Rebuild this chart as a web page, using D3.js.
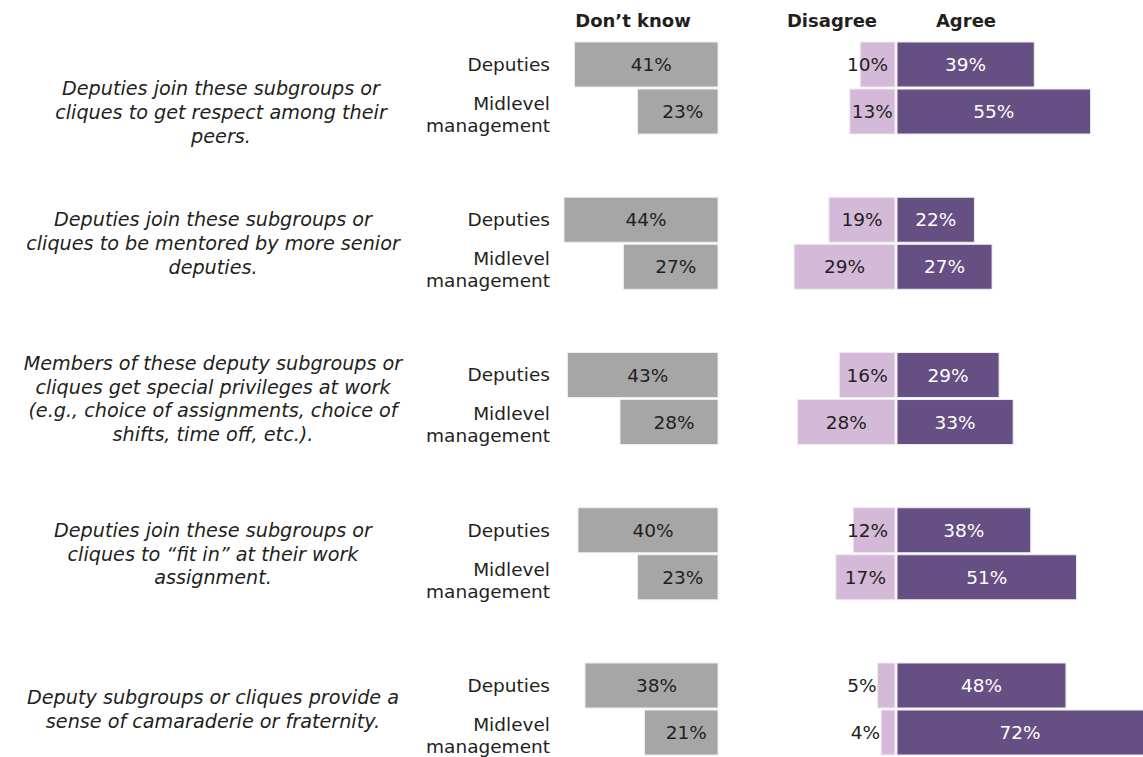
<!DOCTYPE html>
<html>
<head>
<meta charset="utf-8">
<script src="https://cdn.jsdelivr.net/npm/d3@7"></script>
<style>
  html, body { margin: 0; padding: 0; background: #fff; }
  svg { display: block; }
  text { font-family: "DejaVu Sans", "Open Sans", sans-serif; }
</style>
</head>
<body>
<svg id="chart" width="1143" height="757"></svg>
<script>
// ---- data ----
const questions = [
  ["Deputies join these subgroups or", "cliques to get respect among their", "peers."],
  ["Deputies join these subgroups or", "cliques to be mentored by more senior", "deputies."],
  ["Members of these deputy subgroups or", "cliques get special privileges at work", "(e.g., choice of assignments, choice of", "shifts, time off, etc.)."],
  ["Deputies join these subgroups or", "cliques to \u201cfit in\u201d at their work", "assignment."],
  ["Deputy subgroups or cliques provide a", "sense of camaraderie or fraternity."]
];
const groups = ["Deputies", "Midlevel management"];
const groupLabels = [["Deputies"], ["Midlevel", "management"]];
const headers = ["Don\u2019t know", "Disagree", "Agree"];
const dontKnow = [[41, 23], [44, 27], [43, 28], [40, 23], [38, 21]];
const disagree = [[10, 13], [19, 29], [16, 28], [12, 17], [5, 4]];
const agree    = [[39, 55], [22, 27], [29, 33], [38, 51], [48, 72]];

// ---- layout ----
const W = 1143, H = 757;
const svg = d3.select("#chart");
const colors = { dk: "#a6a6a6", dis: "#d4b9d9", agr: "#664f83" };
const fs = 18.5;
const textColor = "#231f20";

const qIdx = questions.map((d, i) => i);
const y0 = d3.scaleBand().domain(qIdx).range([42, 755]).paddingInner(63.25 / 155.25).paddingOuter(0);
const y1 = d3.scaleBand().domain(groups).range([0, y0.bandwidth()]).paddingInner(2 / 46);

// percentage scales (3.5 px per percent)
const xDK = d3.scaleLinear().domain([0, 100]).range([718, 718 - 350]);
const xDis = d3.scaleLinear().domain([0, 100]).range([895, 895 - 348]);
const xAgr = d3.scaleLinear().domain([0, 100]).range([897, 897 + 352]);

// headers
const headerPos = [633, 832, 966];
svg.selectAll("text.hdr").data(headers).join("text")
  .attr("class", "hdr")
  .attr("x", (d, i) => headerPos[i])
  .attr("y", 27)
  .attr("text-anchor", "middle")
  .attr("font-weight", "bold")
  .attr("font-size", 18)
  .attr("fill", textColor)
  .text(d => d);

// question text
const qCenterX = [221, 213, 213, 213, 213];
const qYShift = [24, 0, 0, 0, 0];
const lineH = 23.8;
const qg = svg.selectAll("g.q").data(questions).join("g").attr("class", "q");
qg.each(function (lines, i) {
  const cy = y0(i) + y0.bandwidth() / 2 + qYShift[i];
  const startY = cy - (lines.length - 1) * lineH / 2;
  d3.select(this).selectAll("text").data(lines).join("text")
    .attr("x", qCenterX[i])
    .attr("y", (d, j) => startY + j * lineH)
    .attr("dy", "0.36em")
    .attr("text-anchor", "middle")
    .attr("font-style", "italic")
    .attr("font-size", 19.2)
    .attr("fill", textColor)
    .text(d => d);
});

// group labels
const glLineH = 22;
qIdx.forEach(i => {
  groups.forEach((g, k) => {
    const lines = groupLabels[k];
    const cy = y0(i) + y1(g) + y1.bandwidth() / 2 + (lines.length > 1 ? 3 : 0);
    const startY = cy - (lines.length - 1) * glLineH / 2;
    svg.append("g").selectAll("text").data(lines).join("text")
      .attr("x", 550)
      .attr("y", (d, j) => startY + j * glLineH)
      .attr("dy", "0.34em")
      .attr("text-anchor", "end")
      .attr("font-size", fs)
      .attr("fill", textColor)
      .text(d => d);
  });
});

// bars
function flat(arr) {
  const out = [];
  arr.forEach((pair, i) => pair.forEach((v, k) => out.push({ q: i, g: groups[k], v })));
  return out;
}
const barStroke = "#ececec";

function drawSeries(data, x, color, dir, cls) {
  const g = svg.append("g").attr("class", cls);
  g.selectAll("rect").data(data).join("rect")
    .attr("x", d => dir < 0 ? x(d.v) : x(0))
    .attr("width", d => Math.abs(x(d.v) - x(0)))
    .attr("y", d => y0(d.q) + y1(d.g))
    .attr("height", y1.bandwidth())
    .attr("fill", color)
    .attr("stroke", barStroke)
    .attr("stroke-width", 1);
  return g;
}

const dkData = flat(dontKnow), disData = flat(disagree), agrData = flat(agree);
const gDK = drawSeries(dkData, xDK, colors.dk, -1, "dk");
const gDis = drawSeries(disData, xDis, colors.dis, -1, "dis");
const gAgr = drawSeries(agrData, xAgr, colors.agr, 1, "agr");

function labelY(d) { return y0(d.q) + y1(d.g) + y1.bandwidth() / 2; }

gDK.selectAll("text").data(dkData).join("text")
  .attr("x", d => (xDK(d.v) + xDK(0)) / 2 + 5)
  .attr("y", labelY).attr("dy", "0.36em")
  .attr("text-anchor", "middle").attr("font-size", fs).attr("fill", textColor)
  .text(d => d.v + "%");

gAgr.selectAll("text").data(agrData).join("text")
  .attr("x", d => Math.min((xAgr(d.v) + xAgr(0)) / 2, W - 123))
  .attr("y", labelY).attr("dy", "0.36em")
  .attr("text-anchor", "middle").attr("font-size", fs).attr("fill", "#ffffff")
  .text(d => d.v + "%");

gDis.selectAll("text").data(disData).join("text")
  .attr("y", labelY).attr("dy", "0.36em")
  .attr("font-size", fs).attr("fill", textColor)
  .text(d => d.v + "%")
  .each(function (d) {
    const t = d3.select(this);
    const w = this.getComputedTextLength();
    const x0 = xDis(d.v), x1 = xDis(0);
    const bw = x1 - x0;
    if (bw < 20) {
      t.attr("text-anchor", "end").attr("x", x0 - 1);
    } else if (bw < w + 4) {
      t.attr("text-anchor", "end").attr("x", x1 - 7);
    } else {
      t.attr("text-anchor", "middle").attr("x", (x0 + x1) / 2);
    }
  });
</script>
</body>
</html>
